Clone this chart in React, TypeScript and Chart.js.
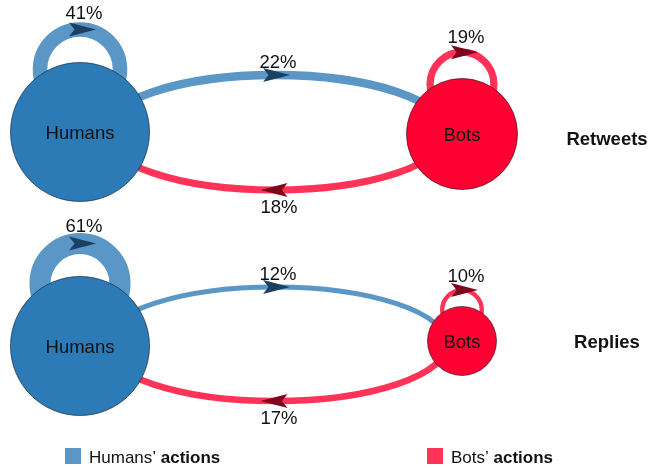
import React, { useEffect, useRef } from 'react';
import { Chart, registerables } from 'chart.js';

Chart.register(...registerables);

// ---------- data ----------
const panels = ['Retweets', 'Replies'];
const nodeNames = ['Humans', 'Bots'];
const humansSelfPct = [41, 61];
const humansToBotsPct = [22, 12];
const botsToHumansPct = [18, 17];
const botsSelfPct = [19, 10];
const legendNames = ['Humans\u2019', 'Bots\u2019'];
const legendBold = 'actions';

// ---------- layout / style ----------
const W = 649;
const H = 468;
const humansX = 80;
const botsX = 462;
const humansY = [132, 346];
const botsY = [134, 341];
const humansR = [69.5, 69.5];
const botsR = [55.5, 34.5];
const ellCx = 275;
const ellCy = [132.5, 344];
const ellA = 172;
const ellB = [57.5, 57];
const panelTitleX = 607;
const panelTitleY = [138, 341];

const HUMAN_NODE = 'rgb(44,122,182)';
const BOT_NODE = 'rgb(255,0,51)';
const HUMAN_EDGE = 'rgb(90,150,198)';
const BOT_EDGE = 'rgb(255,51,87)';
const HUMAN_ARROW = 'rgb(26,64,98)';
const BOT_ARROW = 'rgb(128,4,28)';
const FONT = "'Liberation Sans', Arial, sans-serif";
const LABEL_FONT = `18.5px ${FONT}`;

const edgeWidth = (pct: number) => 1 + pct * 0.33;

export default function App() {
  const ref = useRef<HTMLCanvasElement>(null);

  useEffect(() => {
    if (!ref.current) return;

    const arrow = (ctx: CanvasRenderingContext2D, x: number, y: number, dir: number, color: string) => {
      ctx.save();
      ctx.translate(x, y);
      ctx.scale(dir, 1);
      ctx.beginPath();
      ctx.moveTo(13.5, 0);
      ctx.lineTo(-13.5, -7);
      ctx.lineTo(-8, 0);
      ctx.lineTo(-13.5, 7);
      ctx.closePath();
      ctx.fillStyle = color;
      ctx.fill();
      ctx.restore();
    };

    const text = (ctx: CanvasRenderingContext2D, s: string, x: number, y: number, font: string) => {
      ctx.font = font;
      ctx.fillStyle = '#111';
      ctx.textAlign = 'center';
      ctx.textBaseline = 'middle';
      ctx.fillText(s, x, y + 1.5);
    };

    const diagram = {
      id: 'diagram',
      beforeDatasetsDraw(chart: any) {
        const ctx: CanvasRenderingContext2D = chart.ctx;
        const sx = chart.scales.x;
        const sy = chart.scales.y;
        ctx.save();
        ctx.lineCap = 'butt';
        panels.forEach((_, i) => {
          const cx = sx.getPixelForValue(ellCx);
          const cy = sy.getPixelForValue(ellCy[i]);
          const a = sx.getPixelForValue(ellCx + ellA) - cx;
          const b = sy.getPixelForValue(ellCy[i] + ellB[i]) - cy;
          ctx.beginPath();
          ctx.ellipse(cx, cy, a, Math.abs(b), 0, Math.PI, 2 * Math.PI);
          ctx.strokeStyle = HUMAN_EDGE;
          ctx.lineWidth = edgeWidth(humansToBotsPct[i]);
          ctx.stroke();
          ctx.beginPath();
          ctx.ellipse(cx, cy, a, Math.abs(b), 0, 0, Math.PI);
          ctx.strokeStyle = BOT_EDGE;
          ctx.lineWidth = edgeWidth(botsToHumansPct[i]);
          ctx.stroke();
          const loops = [
            { x: humansX, y: humansY[i], r: humansR[i], pct: humansSelfPct[i], c: HUMAN_EDGE },
            { x: botsX, y: botsY[i], r: botsR[i], pct: botsSelfPct[i], c: BOT_EDGE },
          ];
          loops.forEach((l) => {
            const lx = sx.getPixelForValue(l.x);
            const ly = sy.getPixelForValue(l.y - l.r * 0.9);
            ctx.beginPath();
            ctx.arc(lx, ly, l.r * 0.575, 0, Math.PI * 2);
            ctx.strokeStyle = l.c;
            ctx.lineWidth = edgeWidth(l.pct);
            ctx.stroke();
          });
        });
        ctx.restore();
      },
      afterDatasetsDraw(chart: any) {
        const ctx: CanvasRenderingContext2D = chart.ctx;
        const sx = chart.scales.x;
        const sy = chart.scales.y;
        ctx.save();
        panels.forEach((title, i) => {
          const cx = sx.getPixelForValue(ellCx);
          const top = sy.getPixelForValue(ellCy[i] - ellB[i]);
          const bot = sy.getPixelForValue(ellCy[i] + ellB[i]);
          arrow(ctx, cx + 1.5, top, 1, HUMAN_ARROW);
          arrow(ctx, cx - 1, bot, -1, BOT_ARROW);
          text(ctx, humansToBotsPct[i] + '%', cx + 3, top - 14, LABEL_FONT);
          text(ctx, botsToHumansPct[i] + '%', cx + 4, bot + 16.5, LABEL_FONT);
          const loops = [
            { x: humansX, y: humansY[i], r: humansR[i], pct: humansSelfPct[i], c: HUMAN_ARROW },
            { x: botsX, y: botsY[i], r: botsR[i], pct: botsSelfPct[i], c: BOT_ARROW },
          ];
          loops.forEach((l) => {
            const lx = sx.getPixelForValue(l.x);
            const ltop = sy.getPixelForValue(l.y - l.r * 0.9 - l.r * 0.575);
            arrow(ctx, lx + 2.5, ltop, 1, l.c);
            text(ctx, l.pct + '%', lx + 4, ltop - (14 + edgeWidth(l.pct) * 0.2), LABEL_FONT);
          });
          text(ctx, nodeNames[0], sx.getPixelForValue(humansX), sy.getPixelForValue(humansY[i]), LABEL_FONT);
          text(ctx, nodeNames[1], sx.getPixelForValue(botsX), sy.getPixelForValue(botsY[i]), LABEL_FONT);
          text(ctx, title, sx.getPixelForValue(panelTitleX), sy.getPixelForValue(panelTitleY[i]), `bold 18.5px ${FONT}`);
        });
        const items = [
          { x: 65, c: HUMAN_EDGE, name: legendNames[0] },
          { x: 427, c: BOT_EDGE, name: legendNames[1] },
        ];
        items.forEach((it) => {
          ctx.fillStyle = it.c;
          ctx.fillRect(it.x, 448, 16, 16);
          ctx.textAlign = 'left';
          ctx.textBaseline = 'middle';
          ctx.fillStyle = '#111';
          ctx.font = `17px ${FONT}`;
          const tx = it.x + 24;
          ctx.fillText(it.name + ' ', tx, 458);
          const w = ctx.measureText(it.name + ' ').width;
          ctx.font = `bold 17px ${FONT}`;
          ctx.fillText(legendBold, tx + w, 458);
        });
        ctx.restore();
      },
    };

    const chart = new Chart(ref.current, {
      type: 'bubble',
      data: {
        datasets: [
          {
            label: nodeNames[0],
            data: panels.map((_, i) => ({ x: humansX, y: humansY[i], r: humansR[i] })),
            backgroundColor: HUMAN_NODE,
            borderColor: 'rgba(20,40,60,0.85)',
            borderWidth: 0.8,
            hoverRadius: 0,
            clip: false,
          },
          {
            label: nodeNames[1],
            data: panels.map((_, i) => ({ x: botsX, y: botsY[i], r: botsR[i] })),
            backgroundColor: BOT_NODE,
            borderColor: 'rgba(60,20,30,0.85)',
            borderWidth: 0.8,
            hoverRadius: 0,
            clip: false,
          },
        ],
      },
      options: {
        responsive: false,
        animation: false,
        devicePixelRatio: 1,
        layout: { padding: 0, autoPadding: false },
        events: [],
        scales: {
          x: { type: 'linear', min: 0, max: W, display: false },
          y: { type: 'linear', min: 0, max: H, reverse: true, display: false },
        },
        plugins: { legend: { display: false }, tooltip: { enabled: false } },
      },
      plugins: [diagram],
    } as any);

    return () => chart.destroy();
  }, []);

  return (
    <div style={{ position: 'fixed', left: 0, top: 0, width: W, height: H, background: '#fff' }}>
      <canvas ref={ref} width={W} height={H} style={{ display: 'block', width: W, height: H }} />
    </div>
  );
}
